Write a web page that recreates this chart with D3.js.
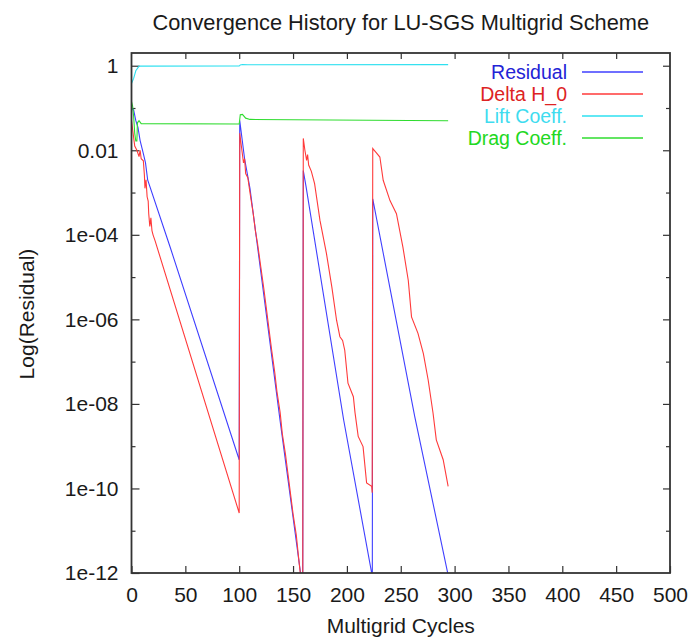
<!DOCTYPE html>
<style>
body { margin: 0; background: #fff; }
svg { font-family: "Liberation Sans", Arial, sans-serif; }
.axis .domain { display: none; }
.axis text { font-size: 21px; fill: #1a1a1a; }
.axis line { stroke: #333; stroke-width: 1.2; }
</style>
<svg width="692" height="639"></svg>
<script src="https://d3js.org/d3.v7.min.js"></script>
<script>

// values, as [cycle, log10(value)]
var residual = [[0,-1.0],[2,-1.05],[4,-1.3],[6,-1.46],[8,-1.77],[11,-2.08],[13,-2.3],[15,-2.7],[36,-4.3],[100,-9.32],
  [100.5,-1.3],[105,-2.2],[110,-2.9],[138,-8.4],[158,-12.2],[159,-12.3],
  [159.5,-2.48],[162,-2.85],[197,-8.38],[223,-12.0],[223.6,-12.1],
  [224,-3.15],[263,-8.3],[294,-12.05]];

var deltaH0 = [[0,-1.3],[1,-1.5],[3,-1.9],[5,-2.0],[7,-2.15],[8,-2.0],[9,-2.2],[11,-2.25],[12,-2.6],[12.5,-2.9],[13.5,-2.7],[14.5,-3.1],[15.5,-3.2],[16,-3.5],[17,-3.8],[18,-3.6],[19,-3.9],[20,-4.0],[22,-4.15],[100,-10.58],
  [100.5,-1.6],[102,-1.9],[104,-2.3],[105,-2.2],[106,-2.55],[108,-2.65],[110,-3.0],[113,-3.5],[115,-3.9],[117,-4.2],[120,-4.75],[123,-5.3],[125,-5.7],[128,-6.3],[130,-6.7],[133,-7.25],[135,-7.7],[138,-8.2],[140,-8.7],[143,-9.2],[145,-9.6],[148,-10.2],[150,-10.6],[153,-11.1],[155,-11.6],[158,-12.3],[159,-12.4],
  [159.5,-1.72],[161,-2.0],[162.6,-2.24],[163.5,-2.1],[164.5,-2.35],[167,-2.5],[170,-2.79],[175,-3.66],[181,-4.44],[186,-5.23],[190.4,-6.02],[193.5,-6.41],[196,-6.5],[198,-6.73],[201,-7.51],[206,-7.83],[207.5,-8.2],[210.5,-8.77],[215,-9.01],[218.3,-9.87],[223,-9.95],[223.5,-10.1],
  [224,-1.96],[227,-2.05],[230.6,-2.16],[233.7,-2.71],[240,-3.19],[246,-3.5],[252,-4.29],[257,-5.08],[260,-5.94],[266,-6.33],[271,-6.81],[275.5,-7.44],[280,-8.22],[283,-8.85],[289.4,-9.32],[294,-9.95]];

var liftCoeff = [[0,-0.42],[2,-0.3],[4,-0.12],[7,-0.01],[100,-0.008],[101,0.02],[103,0.03],[108,0.022],[294,0.025]];

var dragCoeff = [[0,-0.85],[1,-0.95],[2,-1.2],[3,-1.6],[4,-1.78],[5,-1.78],[5.5,-1.35],[7,-1.3],[9,-1.37],[100,-1.38],
  [101,-1.16],[103,-1.15],[106,-1.24],[110,-1.27],[294,-1.3]];

var seriesNames = ["Residual", "Delta H_0", "Lift Coeff.", "Drag Coeff."];
var xTicks = [0, 50, 100, 150, 200, 250, 300, 350, 400, 450, 500];
var yTicks = [1, 1e-2, 1e-4, 1e-6, 1e-8, 1e-10, 1e-12];
var yMinor = [1e-1, 1e-3, 1e-5, 1e-7, 1e-9, 1e-11];

var textColors = ["#2323d6", "#dd2323", "#3fdcef", "#22d822"];
var lineColors = ["#3f3fff", "#ff3a3a", "#2ee0f0", "#2fdc2f"];

var svg = d3.select("svg"),
    margin = {top: 53, right: 22, bottom: 66, left: 131.5},
    width = +svg.attr("width") - margin.left - margin.right,
    height = +svg.attr("height") - margin.top - margin.bottom,
    g = svg.append("g").attr("transform", "translate(" + margin.left + "," + margin.top + ")");

var x = d3.scaleLinear().domain([0, 500]).range([0, width]);
var y = d3.scaleLog().domain([1e-12, 2]).range([height, 0]);

svg.append("text")
    .attr("x", margin.left + width / 2)
    .attr("y", 30)
    .attr("text-anchor", "middle")
    .attr("font-size", 21.8)
    .attr("fill", "#1a1a1a")
    .text("Convergence History for LU-SGS Multigrid Scheme");

// axes, ticks point inward like gnuplot
g.append("g")
    .attr("class", "axis")
    .attr("transform", "translate(0," + height + ")")
    .call(d3.axisBottom(x).tickValues(xTicks).tickSize(-7).tickPadding(14).tickFormat(d3.format("d")));

g.append("g")
    .attr("class", "axis")
    .call(d3.axisTop(x).tickValues(xTicks.slice(1, -1)).tickSize(-6).tickFormat(""));

g.append("g")
    .attr("class", "axis")
    .call(d3.axisLeft(y).tickValues(yTicks).tickSize(-8).tickPadding(13)
      .tickFormat(function(d) {
        if (d === 1) return "1";
        if (d === 1e-2) return "0.01";
        var e = Math.round(Math.log10(d));
        return "1e-" + (e > -10 ? "0" : "") + (-e);
      }));

g.append("g")
    .attr("class", "axis")
    .call(d3.axisLeft(y).tickValues(yMinor).tickSize(-4).tickFormat(""));

g.append("g")
    .attr("class", "axis")
    .attr("transform", "translate(" + width + ",0)")
    .call(d3.axisRight(y).tickValues(yTicks.slice(0, -1)).tickSize(-7).tickFormat(""));

g.append("g")
    .attr("class", "axis")
    .attr("transform", "translate(" + width + ",0)")
    .call(d3.axisRight(y).tickValues(yMinor).tickSize(-4).tickFormat(""));

svg.append("text")
    .attr("x", margin.left + width / 2)
    .attr("y", 633)
    .attr("text-anchor", "middle")
    .attr("font-size", 21)
    .attr("fill", "#1a1a1a")
    .text("Multigrid Cycles");

svg.append("text")
    .attr("transform", "translate(34,314) rotate(-90)")
    .attr("text-anchor", "middle")
    .attr("font-size", 21)
    .attr("fill", "#1a1a1a")
    .text("Log(Residual)");

g.append("clipPath").attr("id", "clip")
  .append("rect").attr("width", width).attr("height", height);

var line = d3.line()
    .x(function(d) { return x(d[0]); })
    .y(function(d) { return y(Math.pow(10, d[1])); });

var allSeries = [residual, deltaH0, liftCoeff, dragCoeff];

g.append("g")
    .attr("clip-path", "url(#clip)")
  .selectAll("path")
  .data(allSeries)
  .enter().append("path")
    .attr("fill", "none")
    .attr("stroke", function(d, i) { return lineColors[i]; })
    .attr("stroke-width", 1.1)
    .attr("d", line);

// legend, top right inside the frame
var legend = svg.append("g")
    .attr("font-size", 19.5)
    .attr("text-anchor", "end")
  .selectAll("g")
  .data(seriesNames)
  .enter().append("g")
    .attr("transform", function(d, i) { return "translate(0," + (78.5 + i * 22) + ")"; });

legend.append("text")
    .attr("x", 567)
    .attr("fill", function(d, i) { return textColors[i]; })
    .text(function(d) { return d; });

legend.append("line")
    .attr("x1", 582)
    .attr("x2", 643)
    .attr("y1", -6.5)
    .attr("y2", -6.5)
    .attr("stroke", function(d, i) { return lineColors[i]; })
    .attr("stroke-width", 1.3);

// frame
g.append("rect")
    .attr("width", width)
    .attr("height", height)
    .attr("fill", "none")
    .attr("stroke", "#333")
    .attr("stroke-width", 1.8);

</script>
